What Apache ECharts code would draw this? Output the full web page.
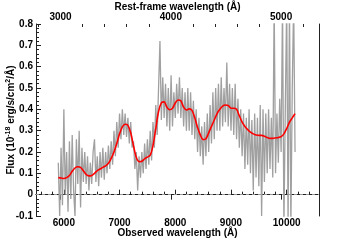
<!DOCTYPE html>
<html>
<head>
<meta charset="utf-8">
<script src="https://cdn.jsdelivr.net/npm/echarts@6/dist/echarts.min.js"></script>
<style>
  html, body { margin: 0; padding: 0; background: #fff; }
  #chart { width: 355px; height: 240px; }
</style>
</head>
<body>
<div id="chart"></div>
<script>
// observed wavelength grid of the spectrum (Angstrom)
const specStart = 5900;
const specStep = 25;
// noisy observed flux, one value every 25 A from 5900 A
const specFlux = [
  0.15, -0.1, 0.22, -0.05, 0.40, 0.0, 0.2, -0.08, 0.25, -0.02, 0.28, 0.02, -0.1, 0.26, 0.05, 0.3, -0.06, 0.22, 0.06, 0.2, 0.05,
  0.18, 0.02, 0.15, 0.05, 0.2, 0.26, 0.06, 0.18, 0.04, 0.2, 0.08, 0.22, 0.07, 0.2, 0.1, 0.23, 0.12, 0.25, 0.14, 0.3, 0.18,
  0.34, 0.22, 0.38, 0.26, 0.4, 0.28, 0.38, 0.27, 0.36, 0.24, 0.34, 0.22,
  0.25, 0.12, 0.2, 0.02, 0.18, 0.08, 0.2, 0.1, 0.24, 0.12, 0.26, 0.14, 0.3, 0.16, 0.34, 0.22, 0.42, 0.28, 0.5, 0.72,
  0.35, 0.55, 0.36, 0.52, 0.32, 0.5, 0.3, 0.56, 0.32, 0.48, 0.36, 0.52, 0.38, 0.55, 0.36, 0.5, 0.32, 0.48, 0.3, 0.5,
  0.3, 0.48, 0.28, 0.44, 0.26, 0.4, 0.2, 0.36, 0.18, 0.32, 0.14, 0.34, 0.18, 0.38, 0.2, 0.42, 0.24, 0.48, 0.26, 0.5,
  0.3, 0.52, 0.3, 0.55, 0.32, 0.5, 0.34, 0.62, 0.32, 0.52, 0.3, 0.5, 0.28, 0.52, 0.26, 0.45, 0.22, 0.4, 0.18, 0.38,
  0.12, 0.36, 0.14, 0.4, 0.1, 0.35, 0.02, 0.38, 0.08, 0.36, 0.04, 0.42, -0.1, 0.4, 0.06, 0.38, 0.1, 0.4, 0.12, 0.36,
  0.08, 0.9, 0.1, 0.38, 0.15, 0.45, 0.2, 0.9, -0.15, 0.4, 0.9, -0.15, 0.9, -0.15, 0.5, 0.9, 0.2
];
// smoothed model, one value every 50 A from 5900 A
const fitStep = 50;
const fitFlux = [
  0.08, 0.078, 0.076, 0.08, 0.09, 0.11, 0.125, 0.131, 0.128, 0.112,
  0.095, 0.088, 0.09, 0.1, 0.113, 0.12, 0.128, 0.135, 0.147, 0.17,
  0.2, 0.24, 0.285, 0.318, 0.33, 0.325, 0.29, 0.23, 0.175, 0.155,
  0.157, 0.168, 0.176, 0.185, 0.23, 0.31, 0.39, 0.43, 0.435, 0.41,
  0.398, 0.405, 0.43, 0.444, 0.44, 0.41, 0.397, 0.402, 0.395, 0.36,
  0.315, 0.28, 0.258, 0.262, 0.29, 0.32, 0.35, 0.38, 0.40, 0.415,
  0.42, 0.418, 0.405, 0.405, 0.40, 0.37, 0.34, 0.32, 0.305, 0.293,
  0.285, 0.28, 0.278, 0.278, 0.274, 0.268, 0.264, 0.264, 0.266, 0.268,
  0.272, 0.285, 0.31, 0.34, 0.36, 0.38
];
// axis ticks
const obsLabels = [6000, 7000, 8000, 9000, 10000];
const obsMinor = [5600, 5800, 6200, 6400, 6600, 6800, 7200, 7400, 7600, 7800, 8200, 8400, 8600, 8800, 9200, 9400, 9600, 9800, 10200, 10400];
const restLabels = [3000, 4000, 5000];
const restMinor = [2800, 3200, 3400, 3600, 3800, 4200, 4400, 4600, 4800, 5200];
const fluxMinor = [-0.08, -0.06, -0.04, -0.02, 0.02, 0.04, 0.06, 0.08, 0.12, 0.14, 0.16, 0.18, 0.22, 0.24, 0.26, 0.28,
  0.32, 0.34, 0.36, 0.38, 0.42, 0.44, 0.46, 0.48, 0.52, 0.54, 0.56, 0.58, 0.62, 0.64, 0.66, 0.68, 0.72, 0.74, 0.76, 0.78];
const onePlusZ = 1.98;
const obsMin = 5500, obsMax = 10580;

const specData = specFlux.map((v, i) => [specStart + i * specStep, v]);
const fitData = fitFlux.map((v, i) => [specStart + i * fitStep, v]);

const font = { fontFamily: 'Liberation Sans', fontWeight: 'bold', fontSize: 10, color: '#000' };
const axisLineStyle = { color: '#222', width: 1 };
const plain = v => String(v);

let chart = echarts.init(document.getElementById('chart'));
chart.setOption({
  animation: false,
  grid: { left: 36, right: 36, top: 24, bottom: 24, containLabel: false, outerBoundsMode: 'none' },
  xAxis: [
    {
      type: 'value', position: 'bottom', min: obsMin, max: obsMax,
      name: 'Observed wavelength (Å)', nameLocation: 'middle', nameGap: 12, nameMoveOverlap: false,
      nameTextStyle: font,
      axisLine: { show: true, lineStyle: axisLineStyle },
      axisTick: { show: true, inside: true, length: 5, customValues: obsLabels, lineStyle: axisLineStyle },
      axisLabel: Object.assign({ margin: 2, customValues: obsLabels, formatter: plain }, font),
      splitLine: { show: false }
    },
    {
      type: 'value', position: 'bottom', min: obsMin, max: obsMax,
      axisLine: { show: false },
      axisTick: { show: true, inside: true, length: 3, customValues: obsMinor, lineStyle: axisLineStyle },
      axisLabel: { show: false },
      splitLine: { show: false }
    },
    {
      type: 'value', position: 'top', min: obsMin / onePlusZ, max: obsMax / onePlusZ,
      name: 'Rest-frame wavelength (Å)', nameLocation: 'middle', nameGap: 12, nameMoveOverlap: false,
      nameTextStyle: font,
      axisLine: { show: true, lineStyle: axisLineStyle },
      axisTick: { show: true, inside: true, length: 5, customValues: restLabels, lineStyle: axisLineStyle },
      axisLabel: Object.assign({ margin: 2, customValues: restLabels, formatter: plain }, font),
      splitLine: { show: false }
    },
    {
      type: 'value', position: 'top', min: obsMin / onePlusZ, max: obsMax / onePlusZ,
      axisLine: { show: false },
      axisTick: { show: true, inside: true, length: 3, customValues: restMinor, lineStyle: axisLineStyle },
      axisLabel: { show: false },
      splitLine: { show: false }
    }
  ],
  yAxis: [
    {
      type: 'value', position: 'left', min: -0.1, max: 0.8, interval: 0.1,
      name: 'Flux (10{sup|-18} erg/s/cm{sup|2}/Å)', nameLocation: 'middle', nameGap: 19, nameRotate: 90,
      nameMoveOverlap: false,
      nameTextStyle: Object.assign({
        rich: { sup: { fontFamily: 'Liberation Sans', fontWeight: 'bold', fontSize: 7, verticalAlign: 'top', padding: [0, 0, 5, 0] } }
      }, font),
      axisLine: { show: true, lineStyle: axisLineStyle },
      axisTick: { show: true, inside: true, length: 5, lineStyle: axisLineStyle },
      axisLabel: Object.assign({ margin: 3 }, font),
      splitLine: { show: false }
    },
    {
      type: 'value', position: 'left', min: -0.1, max: 0.8,
      axisLine: { show: false },
      axisTick: { show: true, inside: true, length: 3, customValues: fluxMinor, lineStyle: axisLineStyle },
      axisLabel: { show: false },
      splitLine: { show: false }
    },
    {
      type: 'value', position: 'right', min: -0.1, max: 0.8,
      axisLine: { show: true, lineStyle: axisLineStyle },
      axisTick: { show: false },
      axisLabel: { show: false },
      splitLine: { show: false }
    }
  ],
  series: [
    {
      name: 'zero', type: 'line', data: [], z: 1,
      markLine: {
        silent: true, symbol: ['none', 'none'], label: { show: false },
        lineStyle: { type: [3, 3], color: '#999', width: 1 },
        data: [{ yAxis: 0 }]
      }
    },
    {
      name: 'spectrum', type: 'line', data: specData, z: 2,
      showSymbol: false, clip: true,
      lineStyle: { color: '#a0a0a0', width: 1.3 }
    },
    {
      name: 'fit', type: 'line', data: fitData, z: 3,
      showSymbol: false, smooth: 0.3, clip: true,
      lineStyle: { color: '#ff0000', width: 1.6 }
    }
  ]
});
</script>
</body>
</html>
